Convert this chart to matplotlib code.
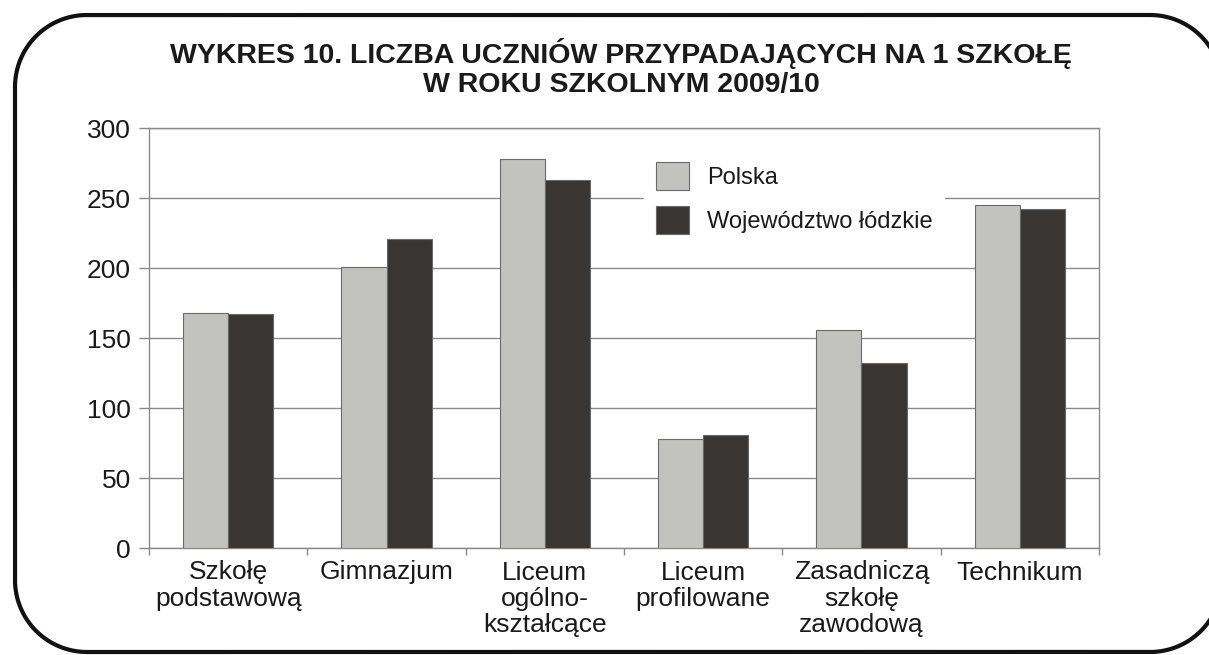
import numpy as np
import matplotlib
matplotlib.use("Agg")
import matplotlib.pyplot as plt
from matplotlib.patches import Patch
from matplotlib.lines import Line2D
from matplotlib.transforms import IdentityTransform

plt.rcParams["font.family"] = ["Liberation Sans", "DejaVu Sans"]

# Data
categories = ["Szkołę\npodstawową", "Gimnazjum", "Liceum\nogólno-\nkształcące",
              "Liceum\nprofilowane", "Zasadniczą\nszkołę\nzawodową", "Technikum"]
polska = [168, 201, 278, 78, 156, 245]
lodzkie = [167, 221, 263, 81, 132, 242]
series_names = ["Polska", "Województwo łódzkie"]
title = "WYKRES 10. LICZBA UCZNIÓW PRZYPADAJĄCYCH NA 1 SZKOŁĘ\nW ROKU SZKOLNYM 2009/10"

W, H = 1209, 655
fig = plt.figure(figsize=(W / 100, H / 100), dpi=100)
ax = fig.add_axes([149 / W, 1 - 548 / H, 950 / W, 420 / H])

light = "#c2c2bf"
dark = "#383532"
edge = "#6a6a6a"
grid = "#8a8a8a"

x = np.arange(len(categories))
bw = 0.285
ax.bar(x - bw / 2, polska, bw, color=light, edgecolor=edge, linewidth=0.8, zorder=3)
ax.bar(x + bw / 2, lodzkie, bw, color=dark, edgecolor=edge, linewidth=0.8, zorder=3)

ax.set_xlim(-0.5, len(categories) - 0.5)
ax.set_ylim(0, 300)
ax.set_yticks(np.arange(0, 301, 50))
ax.yaxis.grid(True, color=grid, linewidth=1.0, zorder=0)
ax.set_axisbelow(True)

for s in ax.spines.values():
    s.set_color(grid)
    s.set_linewidth(1.0)

ax.tick_params(axis="y", length=7, width=1, color=grid, labelsize=19, pad=6, labelcolor="#1a1a1a")
ax.set_xticks(x)
ax.set_xticklabels(categories, fontsize=19, linespacing=1.12, va="top", color="#1a1a1a")
ax.tick_params(axis="x", which="major", length=0, pad=9)
ax.set_xticks(np.arange(-0.5, len(categories)), minor=True)
ax.tick_params(axis="x", which="minor", length=5, width=1, color=grid)

handles = [Patch(facecolor=light, edgecolor=edge, linewidth=0.8),
           Patch(facecolor=dark, edgecolor=edge, linewidth=0.8)]
leg = ax.legend(handles, series_names, loc="upper left",
                bbox_to_anchor=((644 - 149) / 950, (548 - 150) / 420),
                frameon=True, fancybox=False, fontsize=17,
                handlelength=1.4, handleheight=1.45, handletextpad=0.76,
                labelspacing=0.68, borderpad=0.5, borderaxespad=0)
for t in leg.get_texts():
    t.set_color("#1a1a1a")
leg.get_frame().set_facecolor("white")
leg.get_frame().set_edgecolor("white")
leg.get_frame().set_alpha(1)
leg.set_zorder(5)

fig.text(621 / W, 1 - 68 / H, title, ha="center", va="center",
         fontsize=20.5, fontweight="bold", linespacing=1.15, color="#1a1a1a")

# rounded frame around the chart, in pixel coordinates (y measured from bottom)
left, right, top, bottom, r = 15, 1222, 640, 3, 72
t = np.linspace(0, np.pi / 2, 40)
pts = []
for cx, cy, a0 in [(right - r, top - r, 0.0), (left + r, top - r, np.pi / 2),
                   (left + r, bottom + r, np.pi), (right - r, bottom + r, 1.5 * np.pi)]:
    a = a0 + t
    pts.append(np.column_stack([cx + r * np.cos(a), cy + r * np.sin(a)]))
pts.append(pts[0][:1])
outline = np.vstack(pts)
fig.lines.append(Line2D(outline[:, 0], outline[:, 1], transform=IdentityTransform(),
                        color="#111111", linewidth=3, solid_joinstyle="round"))

fig.savefig("out.png", dpi=100)
